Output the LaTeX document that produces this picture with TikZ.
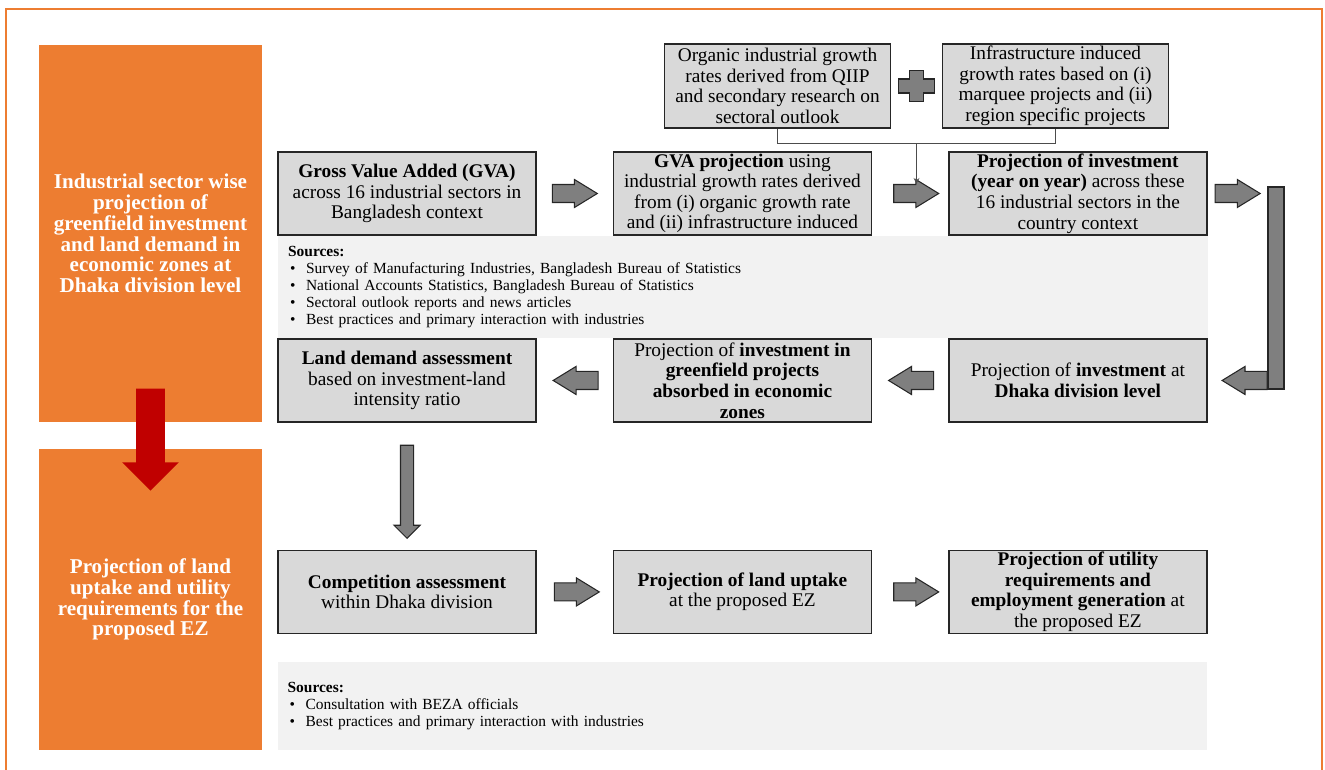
\documentclass[tikz,border=0pt]{standalone}
\usepackage{fontspec}
\setmainfont{Liberation Serif}
\usepackage{xcolor}
\usepackage{tikz}
\usetikzlibrary{shapes.arrows,calc,positioning}

\definecolor{zoneorange}{HTML}{ED7D31}
\definecolor{boxgray}{HTML}{D9D9D9}
\definecolor{arrowgray}{HTML}{7F7F7F}
\definecolor{sourcegray}{HTML}{F2F2F2}
\definecolor{darkred}{HTML}{C00000}

\tikzstyle{stage} = [rectangle, minimum width=4.46cm, align=center, fill=zoneorange, text=white, font=\fontsize{12}{11.8}\selectfont\bfseries]
\tikzstyle{process} = [rectangle, minimum width=5.16cm, minimum height=1.66cm, align=center, draw=black!85, line width=0.9pt, fill=boxgray, inner xsep=2pt, inner ysep=0pt, font=\fontsize{11}{11.7}\selectfont]
\tikzstyle{input} = [process, minimum width=4.52cm, minimum height=1.68cm]
\tikzstyle{sources} = [rectangle, minimum width=18.6cm, minimum height=1.76cm, text width=18.2cm, align=left, fill=sourcegray, inner sep=0.2cm, font=\fontsize{8.8}{9.8}\selectfont]
\tikzstyle{blockarrow} = [single arrow, anchor=tail, draw=black!85, line width=0.6pt, fill=arrowgray, minimum height=0.9cm, inner xsep=0pt, inner ysep=0.17cm, single arrow head extend=0.1cm, single arrow tip angle=63]
\tikzstyle{backarrow} = [blockarrow, shape border rotate=180]
\tikzstyle{downarrow} = [blockarrow, shape border rotate=270, minimum height=1.86cm, inner xsep=0.12cm, inner ysep=0pt, single arrow head extend=0.13cm, single arrow tip angle=90]
\tikzstyle{bigarrow} = [single arrow, anchor=tail, shape border rotate=270, draw=none, fill=darkred, minimum height=2.04cm, inner xsep=0.28cm, inner ysep=0pt, single arrow head extend=0.28cm, single arrow tip angle=90]
\tikzstyle{link} = [draw=black!70, line width=0.5pt]
\tikzstyle{arrow} = [link,->,>=stealth]
\newcommand{\srcitem}[1]{\hspace*{0.04cm}\makebox[0.32cm][l]{\textbullet}#1}

\begin{document}
\begin{tikzpicture}[x=0.02cm, y=-0.02cm, node distance=6.71cm]
	\useasboundingbox (0,0) rectangle (1325,770);
	\draw[zoneorange, line width=0.6pt] (6,770) -- (6,9) -- (1322,9) -- (1322,770);

	% stages on the left
	\node (stageone) [stage, minimum height=7.54cm] at (150.5,233.5) {Industrial sector wise\\projection of\\greenfield investment\\and land demand in\\economic zones at\\Dhaka division level};
	\node (stagetwo) [stage, minimum height=6.02cm] at (150.5,599.5) {Projection of land\\uptake and utility\\requirements for the\\proposed EZ};
	\node (stagearrow) [bigarrow] at ($(stageone.south)+(0,-34)$) {};

	% sources
	\node (sourcesone) [sources] at (743,287) {\textbf{Sources:}\\
		\srcitem{Survey of Manufacturing Industries, Bangladesh Bureau of Statistics}\\
		\srcitem{National Accounts Statistics, Bangladesh Bureau of Statistics}\\
		\srcitem{Sectoral outlook reports and news articles}\\
		\srcitem{Best practices and primary interaction with industries}};
	\node (sourcestwo) [sources] at (742.5,706) {\textbf{Sources:}\\
		\srcitem{Consultation with BEZA officials}\\
		\srcitem{Best practices and primary interaction with industries}};

	% growth inputs
	\node (organic) [input] at (777.5,86) {Organic industrial growth\\rates derived from QIIP\\and secondary research on\\sectoral outlook};
	\node (infra) [input] at (1055.5,86) {Infrastructure induced\\growth rates based on (i)\\marquee projects and (ii)\\region specific projects};
	\coordinate (plus) at ($(organic.east)!0.5!(infra.west)$);
	\filldraw[fill=arrowgray, draw=black!85, line width=0.6pt] (plus) ++(-7,-15.5) -- ++(14,0) -- ++(0,8.5) -- ++(11,0) -- ++(0,14) -- ++(-11,0) -- ++(0,8.5) -- ++(-14,0) -- ++(0,-8.5) -- ++(-11,0) -- ++(0,-14) -- ++(11,0) -- cycle;

	% first row
	\node (gva) [process] at (407,193.5) {\textbf{Gross Value Added (GVA)}\\across 16 industrial sectors in\\Bangladesh context};
	\node (gvaproj) [process, right of=gva] {\textbf{GVA projection} using\\industrial growth rates derived\\from (i) organic growth rate\\and (ii) infrastructure induced};
	\node (investment) [process, right of=gvaproj] {\textbf{Projection of investment}\\\textbf{(year on year)} across these\\16 industrial sectors in the\\country context};

	% second row
	\node (landdemand) [process, below of=gva, node distance=3.74cm] {\textbf{Land demand assessment}\\based on investment-land\\intensity ratio};
	\node (greenfield) [process, right of=landdemand] {Projection of \textbf{investment in}\\\textbf{greenfield projects}\\\textbf{absorbed in economic}\\\textbf{zones}};
	\node (dhaka) [process, right of=greenfield] {Projection of \textbf{investment} at\\\textbf{Dhaka division level}};

	% third row
	\node (competition) [process, below of=landdemand, node distance=4.23cm] {\textbf{Competition assessment}\\within Dhaka division};
	\node (uptake) [process, right of=competition] {\textbf{Projection of land uptake}\\at the proposed EZ};
	\node (utility) [process, right of=uptake] {\textbf{Projection of utility}\\\textbf{requirements and}\\\textbf{employment generation} at\\the proposed EZ};

	% block arrows
	\node (arrgva) [blockarrow] at ($(gva.east)+(15,0)$) {};
	\node (arrgrowth) [blockarrow] at ($(gvaproj.east)+(21,0)$) {};
	\node (arrinv) [blockarrow] at ($(investment.east)+(7,0)$) {};
	\node (bar) [rectangle, draw=black!85, line width=0.6pt, fill=arrowgray, minimum width=0.32cm, minimum height=4.04cm, inner sep=0pt] at (1276,288) {};
	\node (arrdhaka) [backarrow] at ($(dhaka.east)+(60,0)$) {};
	\node (arrgreen) [backarrow] at ($(dhaka.west)+(-14,0)$) {};
	\node (arrland) [backarrow] at ($(greenfield.west)+(-14,0)$) {};
	\node (arrdown) [downarrow] at ($(landdemand.south)+(0,22)$) {};
	\node (arrcomp) [blockarrow] at ($(competition.east)+(17,0)$) {};
	\node (arruptake) [blockarrow] at ($(uptake.east)+(21,0)$) {};

	\draw [link] (organic.south) -- ++(0,15) -| (infra.south);
	\coordinate (join) at ($(organic.south)!0.5!(infra.south)+(0,15)$);
	\draw [arrow] (join) -- (join |- arrgrowth.north);

\end{tikzpicture}
\end{document}
